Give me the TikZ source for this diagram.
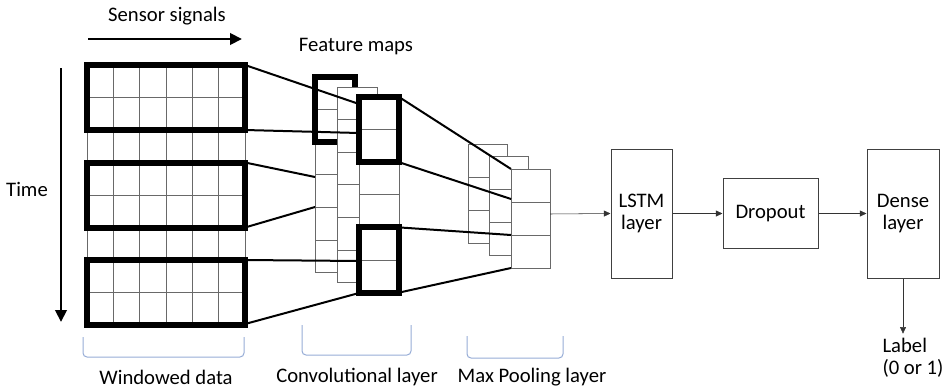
\documentclass[tikz,border=0pt]{standalone}
\usepackage{fontspec}
\setmainfont{Carlito}
\usetikzlibrary{arrows.meta}
\definecolor{bracecol}{RGB}{150,172,214}
\definecolor{gridcol}{RGB}{105,105,105}

\begin{document}
\begin{tikzpicture}[x=.75pt, y=-.75pt, font=\fontsize{15.5}{16.5}\selectfont, >={Triangle[length=5pt,width=4.5pt]},
    cell/.style={draw=gridcol, line width=.6pt},
    fmap/.style={draw=gridcol, fill=white, line width=.6pt},
    win/.style={line width=4.5pt},
    link/.style={line width=1.5pt},
    layer/.style={draw=black!75, line width=.75pt, align=center, inner sep=0pt},
    bracket/.style={draw=bracecol, line width=.75pt, rounded corners=3pt},
    bigarrow/.style={line width=2.2pt, -{Triangle[length=9pt,width=8.5pt]}}]
    \useasboundingbox (0,0) rectangle (945,389);
    \node (sens) at (167,16) {Sensor signals};
    \node (feat) at (356,47) {Feature maps};
    \node (time) at (27,189) {Time};
    \coordinate (s0) at (88,39);
    \coordinate (s1) at (242,39);
    \coordinate (t0) at (61,68);
    \coordinate (t1) at (61,322);
    \draw[bigarrow] (s0) -- (s1);
    \draw[bigarrow] (t0) -- (t1);
    \foreach \c in {0,...,5}
      \foreach \r in {0,...,7}
        \draw[cell] (87+\c*26.33,65+\r*32.5) rectangle ++(26.33,32.5);
    \draw[win] (87,65) rectangle (245,130);
    \draw[win] (87,162.5) rectangle (245,227.5);
    \draw[win] (87,260) rectangle (245,325);
    \foreach \r in {0,...,5}
      \draw[fmap] (315,77+\r*32.6) rectangle ++(40,32.6);
    \draw[win] (315,77) rectangle ++(40,65.2);
    \foreach \px/\py in {337/87,359/97}
      \foreach \r in {0,...,5}
        \draw[fmap] (\px,\py+\r*32.6) rectangle ++(40,32.6);
    \draw[win] (359,97) rectangle ++(40,65.2);
    \draw[win] (359,227.4) rectangle ++(40,65.2);
    \coordinate (w1a) at (245,65);
    \coordinate (w1b) at (245,130);
    \coordinate (w2a) at (245,162.5);
    \coordinate (w2b) at (245,227.5);
    \coordinate (w3a) at (245,260);
    \coordinate (w3b) at (245,324);
    \coordinate (c1a) at (359,104);
    \coordinate (c1b) at (359,133);
    \coordinate (c2a) at (315,177);
    \coordinate (c2b) at (315,207);
    \coordinate (c3a) at (359,261);
    \coordinate (c3b) at (359,293);
    \draw[link] (w1a) -- (c1a);
    \draw[link] (w1b) -- (c1b);
    \draw[link] (w2a) -- (c2a);
    \draw[link] (w2b) -- (c2b);
    \draw[link] (w3a) -- (c3a);
    \draw[link] (w3b) -- (c3b);
    \foreach \px/\py in {468/144,489/156,511/169}
      \foreach \r in {0,1,2}
        \draw[fmap] (\px,\py+\r*33) rectangle ++(39,33);
    \coordinate (f1a) at (399,97);
    \coordinate (f1b) at (399,162.2);
    \coordinate (f2a) at (399,227.4);
    \coordinate (f2b) at (399,292.6);
    \coordinate (p1a) at (511,169);
    \coordinate (p1b) at (511,199);
    \coordinate (p2a) at (511,235);
    \coordinate (p2b) at (511,268);
    \draw[link] (f1a) -- (p1a);
    \draw[link] (f1b) -- (p1b);
    \draw[link] (f2a) -- (p2a);
    \draw[link] (f2b) -- (p2b);
    \coordinate (pout) at (550,214);
    \node[layer, minimum width=45.75pt, minimum height=96.75pt] (lstm) at (641.5,213.5) {LSTM\\layer};
    \node[layer, minimum width=71.25pt, minimum height=52.5pt] (drop) at (770.5,213.5) {Dropout};
    \node[layer, minimum width=54pt, minimum height=96.75pt] (dense) at (903,213.5) {Dense\\layer};
    \node[align=left] (lbl) at (913,358) {Label\\(0 or 1)};
    \draw[->, black!80] (pout) -- (lstm.west);
    \draw[->, black!80] (lstm.east) -- (drop.west);
    \draw[->, black!80] (drop.east) -- (dense.west);
    \draw[->, black!80] (dense.south) -- (dense.south |- lbl.north);
    \draw[bracket] (83,337) -- (83,357) -- (244,357) -- (244,337);
    \draw[bracket] (302,325) -- (302,355) -- (411,355) -- (411,325);
    \draw[bracket] (467,336) -- (467,358) -- (563,358) -- (563,336);
    \node (wlab) at (166,377) {Windowed data};
    \node (clab) at (357,377) {Convolutional layer};
    \node (mlab) at (532,377) {Max Pooling layer};
  \end{tikzpicture}
\end{document}
